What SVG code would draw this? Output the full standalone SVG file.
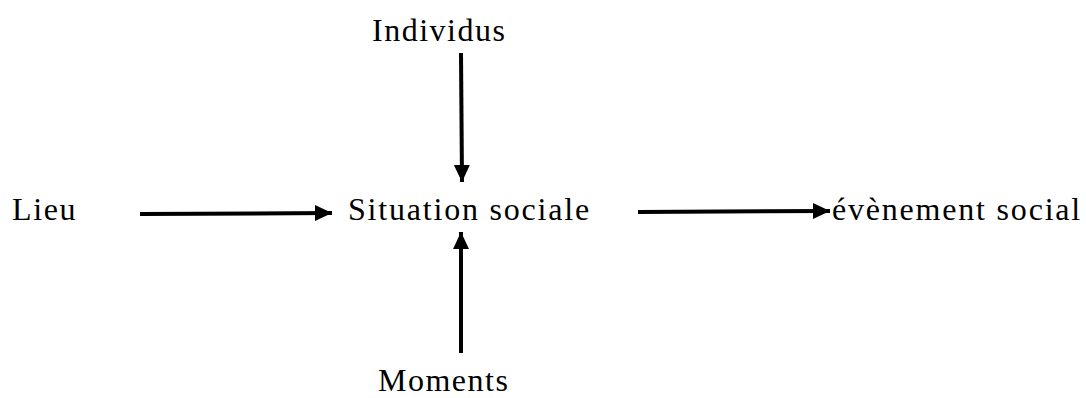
<svg xmlns="http://www.w3.org/2000/svg" width="1086" height="398" viewBox="0 0 1086 398">
<style>
.c line{stroke:#000;stroke-width:4}
</style>
<defs>
<marker id="ah" markerUnits="userSpaceOnUse" markerWidth="18" markerHeight="18" refX="17" refY="8" orient="auto">
<path d="M0,0 L17,8 L0,16 Z" fill="#000"/>
</marker>
</defs>
<rect width="1086" height="398" fill="#fff"/>
<g id="individus"><text x="372" y="41" font-family="Liberation Serif, Times New Roman, serif" font-size="32" letter-spacing="1.5">Individus</text></g>
<g id="lieu"><text x="12" y="220" font-family="Liberation Serif, Times New Roman, serif" font-size="32" letter-spacing="1.6">Lieu</text></g>
<g id="situation"><text x="348" y="220" font-family="Liberation Serif, Times New Roman, serif" font-size="32" letter-spacing="1.8">Situation sociale</text></g>
<g id="evenement"><text x="832" y="220" font-family="Liberation Serif, Times New Roman, serif" font-size="32" letter-spacing="1.8">évènement social</text></g>
<g id="moments"><text x="378" y="391" font-family="Liberation Serif, Times New Roman, serif" font-size="32" letter-spacing="1.5">Moments</text></g>
<g class="c" id="connectors">
<line x1="140" y1="214" x2="332" y2="213" marker-end="url(#ah)"/>
<line x1="638" y1="212" x2="830" y2="211" marker-end="url(#ah)"/>
<line x1="461" y1="53" x2="462" y2="182" marker-end="url(#ah)"/>
<line x1="461" y1="353" x2="461" y2="232" marker-end="url(#ah)"/>
</g>
</svg>
